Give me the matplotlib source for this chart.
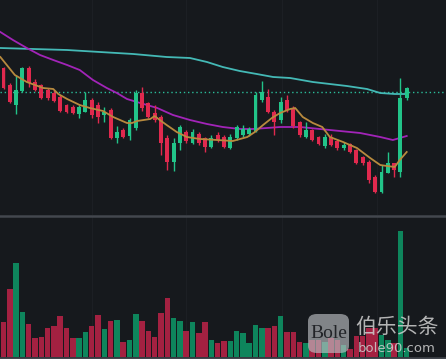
import matplotlib.pyplot as plt
from matplotlib.patches import FancyBboxPatch

# candle data (arbitrary price units)
opens  = [147, 130, 110, 124, 147, 133, 130, 125, 122, 118, 110, 108, 101, 103, 115, 110, 100, 105, 77, 85,
          79, 87, 122, 112, 102, 98, 77, 53, 72, 83, 72, 81, 77, 68, 80, 78, 67, 77, 80, 81,
          83, 115, 118, 103, 95, 115, 107, 93, 78, 85, 78, 69, 78, 74, 67, 71, 65, 58, 53, 38,
          23, 42, 52, 43, 117]
highs  = [148, 132, 140, 148, 149, 136, 131, 127, 125, 120, 111, 110, 110, 123, 117, 113, 108, 107, 89, 87,
          97, 125, 128, 113, 110, 100, 80, 77, 90, 85, 86, 83, 78, 80, 83, 80, 81, 90, 90, 88,
          123, 134, 126, 105, 118, 120, 109, 94, 93, 86, 79, 81, 81, 76, 73, 72, 66, 59, 55, 40,
          50, 63, 52, 137, 128]
lows   = [126, 112, 101, 123, 128, 124, 116, 115, 113, 103, 102, 101, 97, 103, 97, 92, 93, 76, 72, 77,
          75, 85, 104, 97, 93, 60, 45, 44, 65, 72, 71, 70, 63, 67, 73, 67, 66, 75, 78, 79,
          83, 113, 102, 80, 92, 103, 87, 78, 77, 74, 70, 67, 69, 65, 65, 62, 51, 50, 32, 22,
          22, 42, 38, 38, 115]
closes = [127, 113, 125, 147, 132, 125, 117, 117, 114, 104, 103, 102, 108, 115, 100, 98, 103, 77, 83, 78,
          95, 122, 107, 98, 95, 72, 53, 72, 88, 74, 83, 72, 68, 77, 75, 68, 78, 88, 86, 86,
          120, 123, 103, 93, 113, 105, 89, 80, 85, 75, 71, 78, 70, 67, 70, 63, 52, 52, 35, 23,
          43, 52, 45, 117, 127]
volumes = [35, 68, 94, 45, 33, 19, 20, 29, 31, 41, 29, 19, 19, 25, 31, 42, 28, 36, 37, 15,
           17, 43, 36, 26, 20, 44, 59, 39, 36, 26, 35, 24, 35, 17, 14, 16, 16, 26, 24, 14,
           32, 29, 29, 31, 41, 25, 25, 15, 14, 17, 17, 15, 19, 17, 12, 8, 21, 21, 29, 29,
           22, 17, 14, 126, 9]
last_price = 123

# moving averages, sampled along the lines (x in candle index)
ma_fast_x = [-0.5, 1.8, 3.7, 6.3, 7.9, 8.7, 10.1, 12.1, 13.7, 15.8, 17.4, 19.6, 20.4, 21.2, 23.3, 24.0,
             24.8, 25.9, 27.5, 29.1, 31.2, 33.9, 36.4, 38.7, 39.9, 41.2, 42.6, 43.9, 45.5, 46.3, 47.5,
             49.1, 50.6, 51.8, 53.9, 56.1, 58.2, 59.8, 60.9, 62.1, 62.9, 64.0]
ma_fast_y = [158, 140, 133, 127, 126, 121, 116, 110, 107, 104, 98, 92, 92, 94, 96, 99,
             95, 90, 83, 78, 76, 75, 74, 78, 83, 90, 97, 102, 106, 107, 98,
             92, 88, 78, 73, 67, 57, 50, 49, 48, 55, 63]
ma_mid_x = [-0.5, 1.5, 3.7, 5.8, 7.9, 10.1, 12.1, 14.2, 16.4, 18.0, 19.6, 21.7, 24.4, 26.9, 29.6,
            32.3, 34.8, 37.5, 39.6, 41.8, 43.9, 47.1, 50.2, 53.4, 56.6, 59.8, 61.8, 62.9, 64.0]
ma_mid_y = [183, 175, 167, 160, 155, 150, 145, 135, 127, 122, 116, 112, 107, 100, 95,
            91, 88, 86, 86, 87, 88, 88, 86, 84, 82, 78, 75, 77, 79]
ma_slow_x = [-0.5, 4.7, 10.1, 15.3, 20.6, 25.9, 29.6, 32.3, 34.8, 37.5, 40.2, 42.8, 45.5, 49.1,
             54.5, 57.7, 59.8, 62.1, 63.7]
ma_slow_y = [167, 166, 165, 163, 161, 158, 157, 153, 148, 144, 141, 138, 137, 133,
             129, 126, 122, 121, 121]

bg = '#16191d'
up = '#22c489'
down = '#e0294e'
up_vol = '#0e855c'
down_vol = '#a32141'

fig = plt.figure(figsize=(4.46, 3.59), dpi=100, facecolor=bg)
W, H = 446.0, 359.0
ax = fig.add_axes([0, (H - 215) / H, 1, 215 / H])
axv = fig.add_axes([0, (H - 357) / H, 1, 140 / H])

xmin = -3.5 / 6.3
xmax = xmin + W / 6.3

for a in (ax, axv):
    a.set_facecolor(bg)
    a.set_xlim(xmin, xmax)
    a.set_xticks([])
    a.set_yticks([])
    for s in a.spines.values():
        s.set_visible(False)
    for gx in [92, 186, 282, 377]:
        a.axvline(xmin + gx / 6.3, color='#1c1f24', lw=0.8, zorder=0)

ax.set_ylim(0, 215)
axv.set_ylim(0, 140)

# candles
for i in range(len(opens)):
    o, h, l, c = opens[i], highs[i], lows[i], closes[i]
    col = up if c >= o else down
    ax.vlines(i, l, h, color=col, lw=1, zorder=3)
    ax.bar(i, max(abs(c - o), 1), bottom=min(o, c), width=0.62, color=col, zorder=4)

ax.plot(ma_slow_x, ma_slow_y, color='#44b9b6', lw=1.3, zorder=2)
ax.plot(ma_mid_x, ma_mid_y, color='#a224b8', lw=1.3, zorder=2)
ax.plot(ma_fast_x, ma_fast_y, color='#b88a3e', lw=1.3, zorder=5)
ax.axhline(last_price, color='#2bbd9a', lw=1, ls=(0, (1, 2)), zorder=1)

# volume
vcols = [up_vol if closes[i] >= opens[i] else down_vol for i in range(len(volumes))]
axv.bar(range(len(volumes)), volumes, width=0.86, color=vcols, zorder=3)

# separators
fig.add_artist(plt.Line2D([0, 1], [(H - 216) / H, (H - 216) / H], color='#43474e', lw=1.8))
fig.add_artist(plt.Line2D([0, 1], [1.2 / H, 1.2 / H], color='#43474e', lw=1.8))

# watermark
box = FancyBboxPatch((308 / W, (H - 353) / H), 41 / W, 39 / H,
                     boxstyle='round,pad=0,rounding_size=0.02', transform=fig.transFigure,
                     facecolor='#bcbec2', edgecolor='none', alpha=0.65, zorder=10)
fig.add_artist(box)
fig.text(328.5 / W, (H - 334) / H, 'Bole', family='Liberation Serif', fontsize=14,
         color='#222428', ha='center', va='center', zorder=11)
fig.text(397 / W, (H - 327) / H, '伯乐头条', family=['Noto Sans CJK SC', 'DejaVu Sans'],
         fontsize=15, color='#d0d0d0', alpha=0.85, ha='center', va='center', zorder=11)
fig.text(397 / W, (H - 348) / H, 'bole90.com', fontsize=9.5, color='#d0d0d0', alpha=0.85,
         ha='center', va='center', zorder=11)

fig.savefig('out.png', dpi=100, facecolor=bg)
